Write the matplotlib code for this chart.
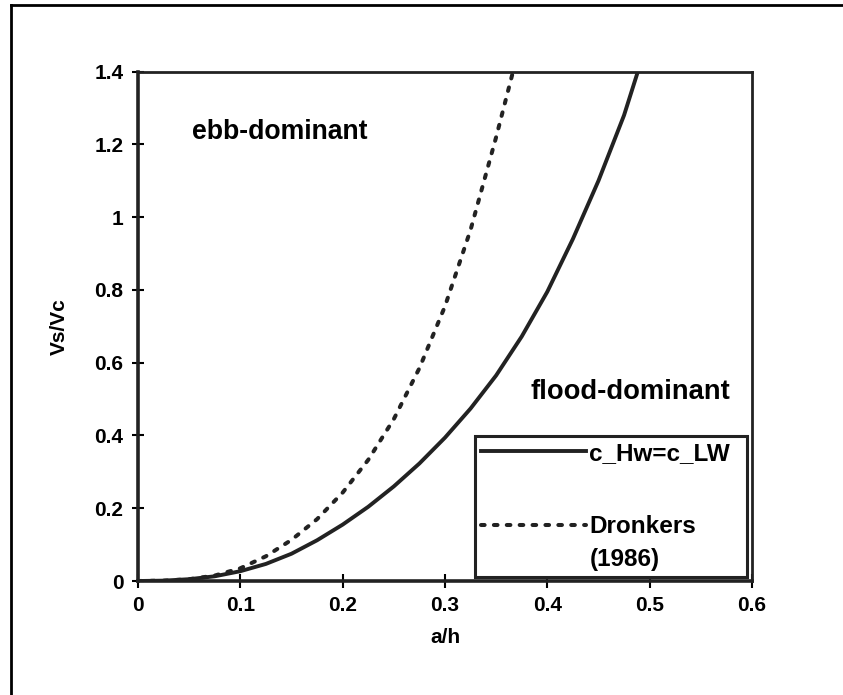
import matplotlib.pyplot as plt
from matplotlib.lines import Line2D

# Curvas (a/h vs Vs/Vc)
a_equal = [0, 0.025, 0.05, 0.075, 0.1, 0.125, 0.15, 0.175, 0.2, 0.225, 0.25,
           0.275, 0.3, 0.325, 0.35, 0.375, 0.4, 0.425, 0.45, 0.475, 0.4885]
v_equal = [0, 0.001, 0.005, 0.013, 0.027, 0.047, 0.075, 0.112, 0.155, 0.204, 0.26,
           0.323, 0.394, 0.474, 0.565, 0.672, 0.795, 0.94, 1.1, 1.28, 1.4]

a_dronkers = [0, 0.025, 0.05, 0.075, 0.1, 0.125, 0.15, 0.175, 0.2, 0.225, 0.25,
              0.275, 0.3, 0.325, 0.35, 0.3665]
v_dronkers = [0, 0.001, 0.005, 0.015, 0.035, 0.068, 0.113, 0.17, 0.243, 0.333, 0.445,
              0.585, 0.755, 0.965, 1.22, 1.4]

x_ticks = [0, 0.1, 0.2, 0.3, 0.4, 0.5, 0.6]
x_labels = ['0', '0.1', '0.2', '0.3', '0.4', '0.5', '0.6']
y_ticks = [0, 0.2, 0.4, 0.6, 0.8, 1.0, 1.2, 1.4]
y_labels = ['0', '0.2', '0.4', '0.6', '0.8', '1', '1.2', '1.4']

plt.rcParams['font.family'] = ['Liberation Sans', 'DejaVu Sans']
plt.rcParams['font.weight'] = 'bold'

ink = '#222222'
dots = (0, (0.9, 2.3))
fig = plt.figure(figsize=(8.43, 6.95), dpi=100)
ax = fig.add_axes([0.1637, 0.164, 0.7283, 0.733])

ax.plot(a_equal, v_equal, color=ink, lw=2.8, solid_capstyle='butt')
ax.plot(a_dronkers, v_dronkers, color=ink, lw=2.9,
        linestyle=dots, dash_capstyle='round')

ax.set_xlim(0, 0.6)
ax.set_ylim(0, 1.4)
ax.set_xticks(x_ticks)
ax.set_xticklabels(x_labels)
ax.set_yticks(y_ticks)
ax.set_yticklabels(y_labels)
ax.tick_params(axis='x', direction='inout', length=10, width=1.5,
               labelsize=15, pad=6, colors='black')
ax.tick_params(axis='y', direction='inout', length=9, width=1.5,
               labelsize=15, pad=6, colors='black')
for s in ax.spines.values():
    s.set_linewidth(2.0)
    s.set_color(ink)
ax.spines['left'].set_linewidth(2.6)
ax.spines['bottom'].set_linewidth(2.6)

ax.set_xlabel('a/h', fontsize=15, fontweight='bold', labelpad=9)
ax.set_ylabel('Vs/Vc', fontsize=15, fontweight='bold', labelpad=18)

ax.text(0.053, 1.235, 'ebb-dominant', fontsize=19.2, fontweight='bold',
        va='center', ha='left')
ax.text(0.384, 0.52, 'flood-dominant', fontsize=19.7, fontweight='bold',
        va='center', ha='left')

# Legenda com linhas extras para imitar o layout original
h_solid = Line2D([], [], color=ink, lw=2.8)
h_dot = Line2D([], [], color=ink, lw=2.9, linestyle=dots,
               dash_capstyle='round')
h_none = Line2D([], [], color='none')
leg = ax.legend([h_solid, h_none, h_dot, h_none],
                ['c_Hw=c_LW', ' ', 'Dronkers', '(1986)'],
                loc='lower left', bbox_to_anchor=(0.549, 0.008, 0.443, 0.3),
                mode='expand', borderaxespad=0, fancybox=False, framealpha=1,
                edgecolor=ink, prop={'size': 17.5, 'weight': 'bold'},
                handlelength=4.3, handletextpad=0.15, labelspacing=0.4,
                borderpad=0.25)
leg.get_frame().set_linewidth(2.2)
leg.get_texts()[1].set_fontsize(24)

# Moldura externa (apenas topo e esquerda)
fig.add_artist(Line2D([0.0125, 1.0], [0.9935, 0.9935], color='black', lw=2.0,
                      transform=fig.transFigure))
fig.add_artist(Line2D([0.0125, 0.0125], [0.0, 0.9935], color='black', lw=2.0,
                      transform=fig.transFigure))

fig.savefig('out.png', dpi=100)
